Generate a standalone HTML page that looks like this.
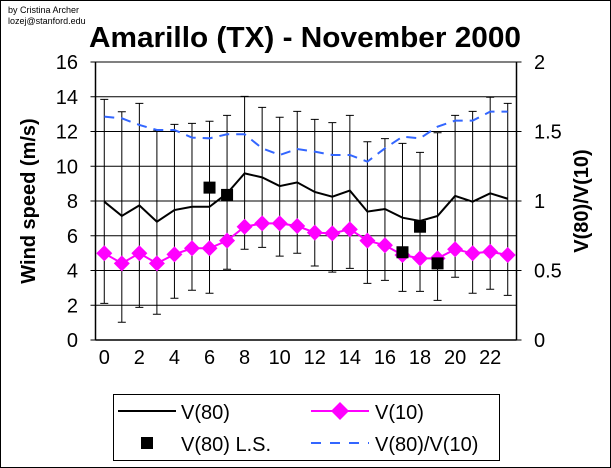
<!DOCTYPE html>
<html><head><meta charset="utf-8"><style>
body{margin:0;background:#fff}
svg{display:block;font-family:"Liberation Sans",Arial,sans-serif}
</style></head><body>
<svg id="c" width="611" height="468" viewBox="0 0 611 468">
<rect x="0.5" y="0.5" width="610" height="467" fill="#fff" stroke="#000"/>
<text x="8" y="13" font-size="9">by Cristina Archer</text>
<text x="8" y="24" font-size="9">lozej@stanford.edu</text>
<text x="89" y="47" font-size="29" font-weight="bold" textLength="432" lengthAdjust="spacingAndGlyphs">Amarillo (TX) - November 2000</text>
<text transform="translate(35,201) rotate(-90)" font-size="20" font-weight="bold" text-anchor="middle">Wind speed (m/s)</text>
<text transform="translate(588,201) rotate(-90)" font-size="20" font-weight="bold" text-anchor="middle">V(80)/V(10)</text>
<g id="grid"></g><g id="err"></g><g id="series"></g><g id="axes"></g>
<g>
<rect x="113.5" y="394.5" width="386" height="66" fill="#fff" stroke="#000"/>
<line x1="118" y1="411" x2="176" y2="411" stroke="#000" stroke-width="2"/>
<text x="181" y="419" font-size="20">V(80)</text>
<line x1="311" y1="411" x2="369" y2="411" stroke="#f0f" stroke-width="2"/>
<polygon points="340,402 349,411 340,420 331,411" fill="#f0f"/>
<text x="375" y="419" font-size="20">V(10)</text>
<rect x="141" y="437" width="12" height="12" fill="#000"/>
<text x="181" y="451" font-size="20">V(80) L.S.</text>
<line x1="311" y1="443" x2="369" y2="443" stroke="#3366ff" stroke-width="2" stroke-dasharray="10,9"/>
<text x="375" y="451" font-size="20">V(80)/V(10)</text>
</g>
</svg>
<script>
const hours=[0,1,2,3,4,5,6,7,8,9,10,11,12,13,14,15,16,17,18,19,20,21,22,23];
const v80=[7.96,7.14,7.75,6.81,7.48,7.67,7.67,8.44,9.59,9.36,8.86,9.07,8.52,8.25,8.6,7.39,7.54,7.04,6.85,7.14,8.29,7.96,8.44,8.13];
const v10=[4.99,4.41,4.99,4.41,4.93,5.28,5.28,5.72,6.52,6.71,6.71,6.56,6.18,6.14,6.37,5.72,5.45,4.89,4.7,4.7,5.22,4.99,5.08,4.89];
const ratio=[1.607,1.595,1.547,1.511,1.511,1.456,1.451,1.48,1.48,1.379,1.331,1.374,1.355,1.331,1.331,1.283,1.379,1.463,1.451,1.535,1.578,1.578,1.643,1.643];
const errHigh=[13.85,13.14,13.62,12.03,12.41,12.47,12.59,12.93,14.02,13.39,12.82,13.16,12.7,12.51,12.93,11.41,11.59,11.32,10.8,11.93,12.93,13.16,13.97,13.62];
const errLow=[2.11,1.02,1.88,1.48,2.4,2.86,2.69,4.07,5.22,5.33,4.83,4.99,4.26,3.91,4.12,3.26,3.43,2.8,2.8,2.28,3.61,2.69,2.92,2.57];
const lsHours=[6,7,17,18,19];
const lsValues=[8.77,8.35,5.05,6.52,4.41];
const yTicks=[0,2,4,6,8,10,12,14,16];
const y2Ticks=[0,0.5,1,1.5,2];
const xTicks=[0,2,4,6,8,10,12,14,16,18,20,22];

const L=95.5,R=516.5,T=62,B=340;
const X=h=>L+(h+0.5)*(R-L)/24;
const Y=v=>B-v*(B-T)/16;
const Y2=v=>B-v*(B-T)/2;
const NS="http://www.w3.org/2000/svg";
function mk(p,tag,a){const e=document.createElementNS(NS,tag);for(const k in a)e.setAttribute(k,a[k]);document.getElementById(p).appendChild(e);return e;}

yTicks.forEach(v=>{
  if(v>0){const g=mk('grid','line',{x1:L,x2:R,y1:Y(v),y2:Y(v),stroke:'#000','stroke-width':1});
  
  }
  const t=mk('axes','text',{x:78,y:Y(v)+7,'font-size':20,'text-anchor':'end'});t.textContent=v;
  
  
  mk('axes','line',{x1:L-5,x2:L,y1:Y(v),y2:Y(v),stroke:'#000'});
});
y2Ticks.forEach(v=>{
  const t=mk('axes','text',{x:534,y:Y2(v)+7,'font-size':20});t.textContent=v;
  
  
  mk('axes','line',{x1:R,x2:R+5,y1:Y2(v),y2:Y2(v),stroke:'#000'});
});
xTicks.forEach(h=>{
  const t=mk('axes','text',{x:X(h),y:364,'font-size':20,'text-anchor':'middle'});t.textContent=h;
  
  
});
mk('axes','line',{x1:L,x2:L,y1:T,y2:B,stroke:'#000','stroke-width':1.5});
mk('axes','line',{x1:R,x2:R,y1:T,y2:B,stroke:'#000','stroke-width':1.5});
mk('axes','line',{x1:L,x2:R,y1:B,y2:B,stroke:'#000','stroke-width':1.5});
mk('axes','line',{x1:L,x2:R,y1:T,y2:T,stroke:'#000','stroke-width':1});

hours.forEach((h,i)=>{
  const x=X(h);
  const e=mk('err','path',{d:`M${x},${Y(errLow[i])}V${Y(errHigh[i])}M${x-4},${Y(errLow[i])}h8M${x-4},${Y(errHigh[i])}h8`,stroke:'#000','stroke-width':1,fill:'none'});
  
  
});
const pr=mk('series','polyline',{points:hours.map((h,i)=>X(h)+','+Y2(ratio[i])).join(' '),fill:'none',stroke:'#3366ff','stroke-width':2,'stroke-dasharray':'10,7'});


const p10=mk('series','polyline',{points:hours.map((h,i)=>X(h)+','+Y(v10[i])).join(' '),fill:'none',stroke:'#f0f','stroke-width':2});


hours.forEach((h,i)=>{const x=X(h),y=Y(v10[i]);
  const d=mk('series','polygon',{points:`${x},${y-8} ${x+8},${y} ${x},${y+8} ${x-8},${y}`,fill:'#f0f'});
  
  
});
const p80=mk('series','polyline',{points:hours.map((h,i)=>X(h)+','+Y(v80[i])).join(' '),fill:'none',stroke:'#000','stroke-width':2});


lsHours.forEach((h,i)=>{
  const s=mk('series','rect',{x:X(h)-6,y:Y(lsValues[i])-6,width:12,height:12,fill:'#000'});
  
  
});
</script>
</body></html>
